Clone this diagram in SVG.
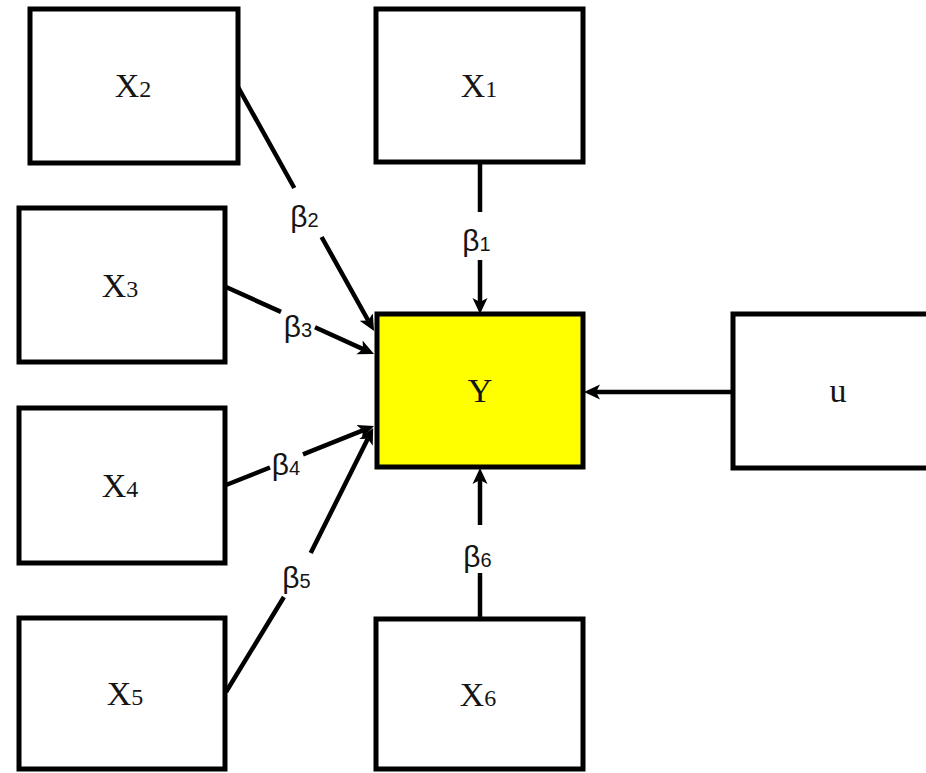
<svg xmlns="http://www.w3.org/2000/svg" width="926" height="773" viewBox="0 0 926 773">
  <style>
    .box { fill: #ffffff; stroke: #000000; stroke-width: 5; stroke-linejoin: miter; }
    .target { fill: #ffff00; }
    .name { font-family: "Liberation Serif", "Times New Roman", serif; font-size: 34px; fill: #151515; text-anchor: middle; }
    .name .sub { font-size: 24px; }
    .coef { font-family: "Liberation Sans", Arial, sans-serif; font-size: 30px; fill: #151515; text-anchor: middle; }
    .coef .sub { font-size: 20px; }
    .link { fill: none; stroke: #000000; stroke-width: 4.5; marker-end: url(#head); }
  </style>
  <defs>
    <marker id="head" markerUnits="userSpaceOnUse" viewBox="0 0 16 16" refX="4" refY="8" markerWidth="16" markerHeight="16" orient="auto">
      <path d="M0,0.5 L16,8 L0,15.5 L4,8 Z" fill="#000000"/>
    </marker>
  </defs>
  <rect width="926" height="773" fill="#ffffff"/>

  <!-- regression paths into Y -->
  <g id="connectors">
    <path class="link" d="M480,163 L480,212 M480,260 L480,302"/>
    <path class="link" d="M238,87 L294.3,188 M321.6,237 L368.2,320.5"/>
    <path class="link" d="M226,287 L281,311.9 M315,327.3 L363.1,349.1"/>
    <path class="link" d="M226,485 L270,467.5 M303,454.3 L362.9,430.4"/>
    <path class="link" d="M226,692 L283.9,597 M310.7,553 L367.8,438.8"/>
    <path class="link" d="M480,618 L480,573 M480,525 L480,480"/>
    <path class="link" d="M733,392 L596,392"/>
  </g>

  <!-- coefficient labels -->
  <g id="coefficients">
    <text class="coef" x="476.5" y="251">β<tspan class="sub">1</tspan></text>
    <text class="coef" x="304.5" y="227">β<tspan class="sub">2</tspan></text>
    <text class="coef" x="298" y="337">β<tspan class="sub">3</tspan></text>
    <text class="coef" x="286" y="475">β<tspan class="sub">4</tspan></text>
    <text class="coef" x="296.5" y="588">β<tspan class="sub">5</tspan></text>
    <text class="coef" x="477.5" y="567">β<tspan class="sub">6</tspan></text>
  </g>

  <g id="node-x1">
    <rect class="box" x="376" y="9" width="207" height="153"/>
    <text class="name" x="479" y="97">X<tspan class="sub">1</tspan></text>
  </g>
  <g id="node-x2">
    <rect class="box" x="30" y="9" width="208" height="154"/>
    <text class="name" x="133" y="97">X<tspan class="sub">2</tspan></text>
  </g>
  <g id="node-x3">
    <rect class="box" x="19" y="208" width="206" height="154"/>
    <text class="name" x="120" y="297">X<tspan class="sub">3</tspan></text>
  </g>
  <g id="node-x4">
    <rect class="box" x="19" y="408" width="206" height="155"/>
    <text class="name" x="120" y="497">X<tspan class="sub">4</tspan></text>
  </g>
  <g id="node-x5">
    <rect class="box" x="19" y="618" width="206" height="151"/>
    <text class="name" x="125" y="705">X<tspan class="sub">5</tspan></text>
  </g>
  <g id="node-x6">
    <rect class="box" x="376" y="619" width="207" height="150"/>
    <text class="name" x="478" y="706">X<tspan class="sub">6</tspan></text>
  </g>
  <g id="node-y">
    <rect class="box target" x="377" y="314" width="206" height="153"/>
    <text class="name" x="480" y="402">Y</text>
  </g>
  <g id="node-u">
    <rect class="box" x="733" y="314" width="215" height="154"/>
    <text class="name" x="838" y="402">u</text>
  </g>
</svg>
